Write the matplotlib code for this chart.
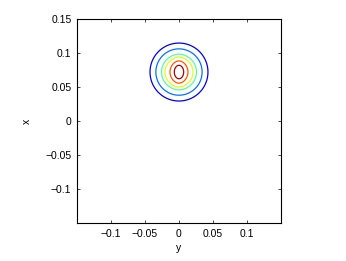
import numpy as np
import matplotlib
matplotlib.use("Agg")
import matplotlib.pyplot as plt

# field: broad round peak plus a narrow peak stretched along x, both at (y0, x0)
# horizontal axis is y, vertical axis is x
PEAK_Y, PEAK_X = 0.0, 0.072
SIGMA = 0.025
CORE_WEIGHT = 0.3
CORE_SIGMA_Y, CORE_SIGMA_X = 0.006, 0.0105
# half-widths (along y) of the six contour lines, outermost first
RING_RADII = [0.0426, 0.0340, 0.0257, 0.0206, 0.0132, 0.0069]
RING_CMAP_POS = [0.10, 0.24, 0.45, 0.62, 0.82, 0.96]

X_TICKS = [-0.1, -0.05, 0, 0.05, 0.1]
Y_TICKS = [-0.1, -0.05, 0, 0.05, 0.1, 0.15]
X_TICK_LABELS = ["\u22120.1", "\u22120.05", "0", "0.05", "0.1"]
Y_TICK_LABELS = ["\u22120.1", "\u22120.05", "0", "0.05", "0.1", "0.15"]
LIMITS = (-0.15, 0.15)

plt.rcParams.update({"font.family": "Liberation Sans", "font.size": 7.5})


def field(y, x):
    dy, dx = y - PEAK_Y, x - PEAK_X
    broad = np.exp(-(dy ** 2 + dx ** 2) / (2 * SIGMA ** 2))
    core = np.exp(-(dy ** 2 / (2 * CORE_SIGMA_Y ** 2) + dx ** 2 / (2 * CORE_SIGMA_X ** 2)))
    return broad + CORE_WEIGHT * core


yy = np.linspace(LIMITS[0], LIMITS[1], 601)
xx = np.linspace(LIMITS[0], LIMITS[1], 601)
Y, X = np.meshgrid(yy, xx)
Z = field(Y, X)
levels = [float(field(PEAK_Y + r, PEAK_X)) for r in RING_RADII]

colors = [plt.cm.jet(p) for p in RING_CMAP_POS]

fig = plt.figure(figsize=(3.46, 2.61), dpi=100)
ax = fig.add_axes([0.2225, 0.1456, 0.5896, 0.7816])
ax.contour(Y, X, Z, levels=levels, colors=colors, linewidths=0.9)
ax.set_xlim(*LIMITS)
ax.set_ylim(*LIMITS)
ax.set_xticks(X_TICKS)
ax.set_xticklabels(X_TICK_LABELS)
ax.set_yticks(Y_TICKS)
ax.set_yticklabels(Y_TICK_LABELS)
ax.tick_params(direction="in", length=2.5, width=0.5, top=True, right=True, pad=4)
for s in ax.spines.values():
    s.set_linewidth(0.8)
ax.set_xlabel("y", labelpad=3)
ax.set_ylabel("x", labelpad=10)

fig.savefig("out.png", dpi=100)
